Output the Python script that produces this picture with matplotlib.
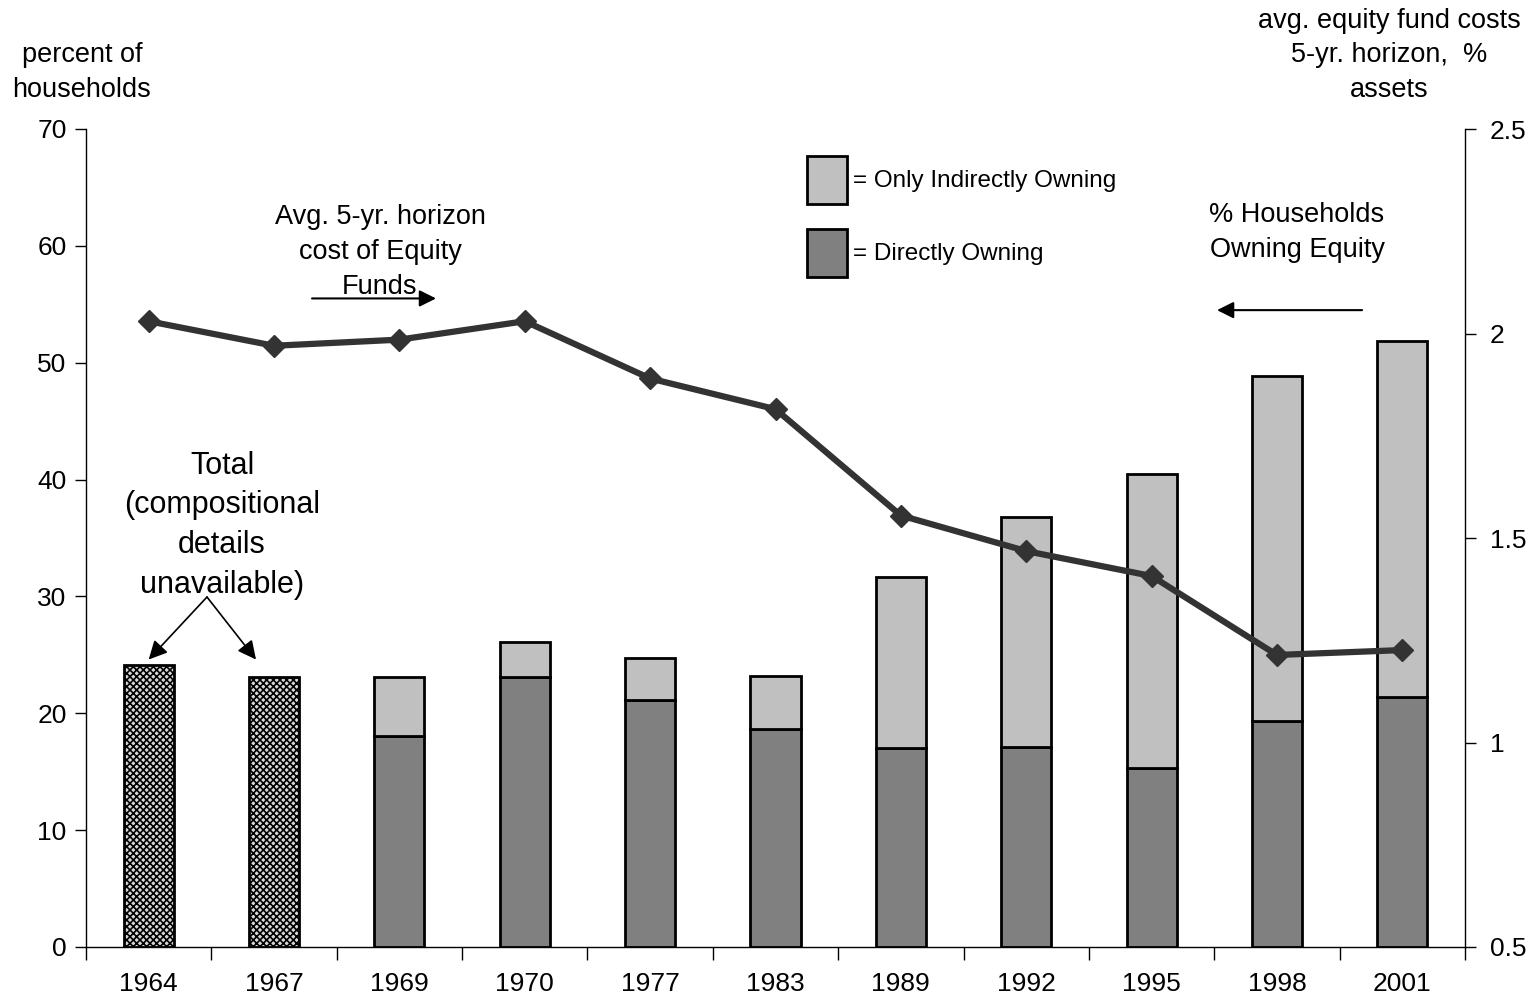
import matplotlib
matplotlib.use("Agg")
import matplotlib.pyplot as plt
from matplotlib.patches import Patch
from matplotlib.ticker import FixedLocator

plt.rcParams['font.family'] = ['Liberation Sans', 'DejaVu Sans']
plt.rcParams['hatch.linewidth'] = 1.2

years = ["1964", "1967", "1969", "1970", "1977", "1983", "1989", "1992", "1995", "1998", "2001"]
total_only = [24.1, 23.1, None, None, None, None, None, None, None, None, None]
direct = [0, 0, 18.05, 23.1, 21.1, 18.65, 17.0, 17.1, 15.3, 19.3, 21.4]
total = [24.1, 23.1, 23.1, 26.1, 24.7, 23.2, 31.65, 36.8, 40.5, 48.9, 51.9]
fund_cost = [2.03, 1.97, 1.985, 2.03, 1.89, 1.815, 1.555, 1.468, 1.407, 1.214, 1.226]
left_ticks = [0, 10, 20, 30, 40, 50, 60, 70]
right_ticks = [0.5, 1, 1.5, 2, 2.5]
right_labels = ["0.5", "1", "1.5", "2", "2.5"]

fig = plt.figure(figsize=(15.31, 10.02), dpi=100)
ax = fig.add_axes([86/1531, 55/1002, (1465-86)/1531, (947-129)/1002])
x = list(range(len(years)))
bw = 0.4

# hatched totals
hx = [i for i, v in enumerate(total_only) if v is not None]
hv = [total_only[i] for i in hx]
ax.bar(hx, hv, bw, facecolor='#d8d8d8', edgecolor='black', hatch='xxxxx', linewidth=2)

# stacked bars
sx = [i for i, v in enumerate(total_only) if v is None]
d = [direct[i] for i in sx]
ind = [total[i] - direct[i] for i in sx]
ax.bar(sx, d, bw, color='#808080', edgecolor='black', linewidth=2)
ax.bar(sx, ind, bw, bottom=d, color='#c0c0c0', edgecolor='black', linewidth=2)

ax.set_xlim(-0.5, len(years) - 0.5)
ax.set_ylim(0, 70)
ax.set_yticks(left_ticks)
ax.set_xticks(x)
ax.set_xticklabels(years)
ax.xaxis.set_minor_locator(FixedLocator([i - 0.5 for i in range(len(years) + 1)]))
ax.tick_params(axis='x', which='major', length=0, pad=18, labelsize=19)
ax.tick_params(axis='x', which='minor', length=9, width=1, direction='out')
ax.tick_params(axis='y', length=8, width=1, direction='out', labelsize=19, pad=6)
for s in ['top', 'right']:
    ax.spines[s].set_visible(False)
ax.spines['left'].set_linewidth(1)
ax.spines['bottom'].set_linewidth(1)

ax2 = ax.twinx()
ax2.plot(x, fund_cost, color='#333333', linewidth=4.5, marker='D', markersize=11,
         markerfacecolor='#333333', markeredgecolor='#333333', zorder=5)
ax2.set_ylim(0.5, 2.5)
ax2.set_yticks(right_ticks)
ax2.set_yticklabels(right_labels)
ax2.tick_params(axis='y', length=8, width=1, direction='out', labelsize=19, pad=10)
for s in ['top', 'left', 'bottom']:
    ax2.spines[s].set_visible(False)
ax2.spines['right'].set_linewidth(1)

# legend
handles = [Patch(facecolor='#c0c0c0', edgecolor='black', linewidth=2, label='= Only Indirectly Owning'),
           Patch(facecolor='#808080', edgecolor='black', linewidth=2, label='= Directly Owning')]
ax.legend(handles=handles, loc='upper left', bbox_to_anchor=((807-86)/1379 - 0.0072, 1 - (146-129)/818),
          frameon=False, fontsize=17.5, handlelength=1.65, handleheight=2.7,
          handletextpad=0.25, labelspacing=1.0, borderaxespad=0)

# annotations
ax.text(1.845, 59.45, "Avg. 5-yr. horizon\ncost of Equity\nFunds", ha='center', va='center',
        fontsize=19.5, linespacing=1.45)
ax.annotate("", xy=(2.292, 55.5), xytext=(1.303, 55.5),
            arrowprops=dict(arrowstyle='-|>', color='black', lw=1.5, mutation_scale=25,
                            shrinkA=0, shrinkB=0))
ax.text(9.16, 61.15, "% Households\nOwning Equity", ha='center', va='center',
        fontsize=19.5, linespacing=1.45)
ax.annotate("", xy=(8.522, 54.5), xytext=(9.679, 54.5),
            arrowprops=dict(arrowstyle='-|>', color='black', lw=1.5, mutation_scale=25,
                            shrinkA=0, shrinkB=0))
ax.text(0.585, 36.1, "Total\n(compositional\ndetails\nunavailable)", ha='center', va='center',
        fontsize=22, linespacing=1.42)
for ex in [0.0, 0.856]:
    ax.annotate("", xy=(ex, 24.6), xytext=(0.465, 29.95),
                arrowprops=dict(arrowstyle='-|>', color='black', lw=1.2, mutation_scale=28,
                                shrinkA=0, shrinkB=0))

fig.text(82/1531, 1 - 72.5/1002, "percent of\nhouseholds", ha='center', va='center', fontsize=19.5,
         linespacing=1.45)
fig.text(1389/1531, 1 - 55.5/1002, "avg. equity fund costs\n5-yr. horizon,  %\nassets", ha='center',
         va='center', fontsize=19.5, linespacing=1.42)

fig.savefig("out.png", dpi=100)
